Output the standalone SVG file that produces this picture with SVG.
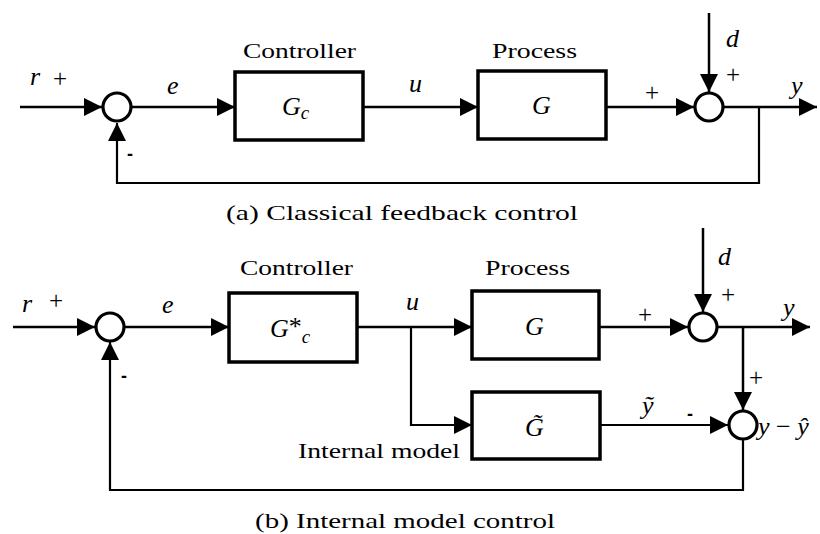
<svg xmlns="http://www.w3.org/2000/svg" width="820" height="534" viewBox="0 0 820 534">
<style>
.box{fill:#fff;stroke:#000;stroke-width:3.5}
.sum{fill:#fff;stroke:#000;stroke-width:3.2}
.ln{fill:none;stroke:#000;stroke-width:2.5}
.fb{fill:none;stroke:#000;stroke-width:2.2}
.lbl{font-family:"Liberation Serif","Times New Roman",serif;font-size:22px;fill:#000}
.m{font-family:"Liberation Serif","Times New Roman",serif;font-size:26px;font-style:italic;fill:#000}
.pl{font-family:"Liberation Serif","Times New Roman",serif;font-size:25px;fill:#000}
.mn{font-family:"Liberation Sans",Arial,sans-serif;font-size:18px;font-weight:bold;fill:#000}
</style>
<defs>
<marker id="ah" markerUnits="userSpaceOnUse" markerWidth="18" markerHeight="18" viewBox="0 0 17 17" refX="17" refY="8.5" orient="auto">
<path d="M0,0 L17,8.5 L0,17 z" fill="#000"/>
</marker>
</defs>

<g id="connectors">
<!-- (a) -->
<line class="ln" x1="20" y1="107" x2="102" y2="107" marker-end="url(#ah)"/>
<line class="ln" x1="132" y1="107" x2="235" y2="107" marker-end="url(#ah)"/>
<line class="ln" x1="363" y1="107" x2="478" y2="107" marker-end="url(#ah)"/>
<line class="ln" x1="606" y1="107" x2="694" y2="107" marker-end="url(#ah)"/>
<line class="ln" x1="709" y1="13" x2="709" y2="92" marker-end="url(#ah)"/>
<line class="ln" x1="724" y1="107" x2="817" y2="107" marker-end="url(#ah)"/>
<polyline class="fb" points="759,107 759,183 117,183 117,123" marker-end="url(#ah)"/>
<!-- (b) -->
<line class="ln" x1="13" y1="327" x2="95" y2="327" marker-end="url(#ah)"/>
<line class="ln" x1="125" y1="327" x2="229" y2="327" marker-end="url(#ah)"/>
<line class="ln" x1="357" y1="327" x2="472" y2="327" marker-end="url(#ah)"/>
<polyline class="fb" points="411,327 411,425 472,425" marker-end="url(#ah)"/>
<line class="ln" x1="599" y1="327" x2="688" y2="327" marker-end="url(#ah)"/>
<line class="ln" x1="703" y1="228" x2="703" y2="312" marker-end="url(#ah)"/>
<line class="ln" x1="718" y1="327" x2="810" y2="327" marker-end="url(#ah)"/>
<line class="ln" x1="743" y1="327" x2="743" y2="410" marker-end="url(#ah)"/>
<line class="fb" x1="600" y1="425" x2="728" y2="425" marker-end="url(#ah)"/>
<polyline class="fb" points="743,440 743,490 110,490 110,342" marker-end="url(#ah)"/>
</g>

<!-- (a) nodes -->
<g id="sum-a1"><circle class="sum" cx="117" cy="107" r="14"/></g>
<g id="controller-a">
<rect class="box" x="235" y="72" width="128" height="68"/>
<text class="lbl" x="243" y="58" textLength="113" lengthAdjust="spacingAndGlyphs">Controller</text>
<text class="m" x="282" y="115">G<tspan font-size="19" dy="4">c</tspan></text>
</g>
<g id="process-a">
<rect class="box" x="478" y="71" width="128" height="68"/>
<text class="lbl" x="492" y="58" textLength="85" lengthAdjust="spacingAndGlyphs">Process</text>
<text class="m" x="532" y="114">G</text>
</g>
<g id="sum-a2"><circle class="sum" cx="709" cy="107" r="14"/></g>

<g id="labels-a">
<text class="m" x="30" y="85">r</text>
<text class="pl" x="53" y="87">+</text>
<text class="m" x="167" y="94">e</text>
<text class="mn" x="127" y="160">-</text>
<text class="m" x="409" y="92">u</text>
<text class="pl" x="645" y="101">+</text>
<text class="m" x="726" y="47">d</text>
<text class="pl" x="726" y="83">+</text>
<text class="m" x="791" y="94">y</text>
<text class="lbl" x="226" y="220" textLength="352" lengthAdjust="spacingAndGlyphs">(a)  Classical feedback control</text>
</g>

<!-- (b) nodes -->
<g id="sum-b1"><circle class="sum" cx="110" cy="327" r="14"/></g>
<g id="controller-b">
<rect class="box" x="229" y="293" width="128" height="69"/>
<text class="lbl" x="240" y="275" textLength="113" lengthAdjust="spacingAndGlyphs">Controller</text>
<text class="m" x="270" y="337">G<tspan font-style="normal" dy="-2">*</tspan><tspan font-size="19" dy="8">c</tspan></text>
</g>
<g id="process-b">
<rect class="box" x="472" y="291" width="127" height="68"/>
<text class="lbl" x="485" y="275" textLength="85" lengthAdjust="spacingAndGlyphs">Process</text>
<text class="m" x="525" y="335">G</text>
</g>
<g id="model-b">
<rect class="box" x="472" y="392" width="128" height="67"/>
<text class="m" x="525" y="436">G&#x303;</text>
<text class="lbl" x="298" y="458" textLength="162" lengthAdjust="spacingAndGlyphs">Internal model</text>
</g>
<g id="sum-b2"><circle class="sum" cx="703" cy="327" r="14"/></g>
<g id="sum-b3"><circle class="sum" cx="743" cy="425" r="14"/></g>

<g id="labels-b">
<text class="m" x="22" y="312">r</text>
<text class="pl" x="49" y="309">+</text>
<text class="m" x="162" y="313">e</text>
<text class="mn" x="121" y="382">-</text>
<text class="m" x="406" y="310">u</text>
<text class="pl" x="638" y="323">+</text>
<text class="m" x="718" y="265">d</text>
<text class="pl" x="721" y="303">+</text>
<text class="m" x="783" y="316">y</text>
<text class="pl" x="749" y="386">+</text>
<text class="m" x="642" y="414">ỹ</text>
<text class="mn" x="687" y="420">-</text>
<text class="m" x="758" y="435" font-size="27">y <tspan font-style="normal">−</tspan> ŷ</text>
<text class="lbl" x="255" y="528" textLength="300" lengthAdjust="spacingAndGlyphs">(b)  Internal model control</text>
</g>
</svg>
